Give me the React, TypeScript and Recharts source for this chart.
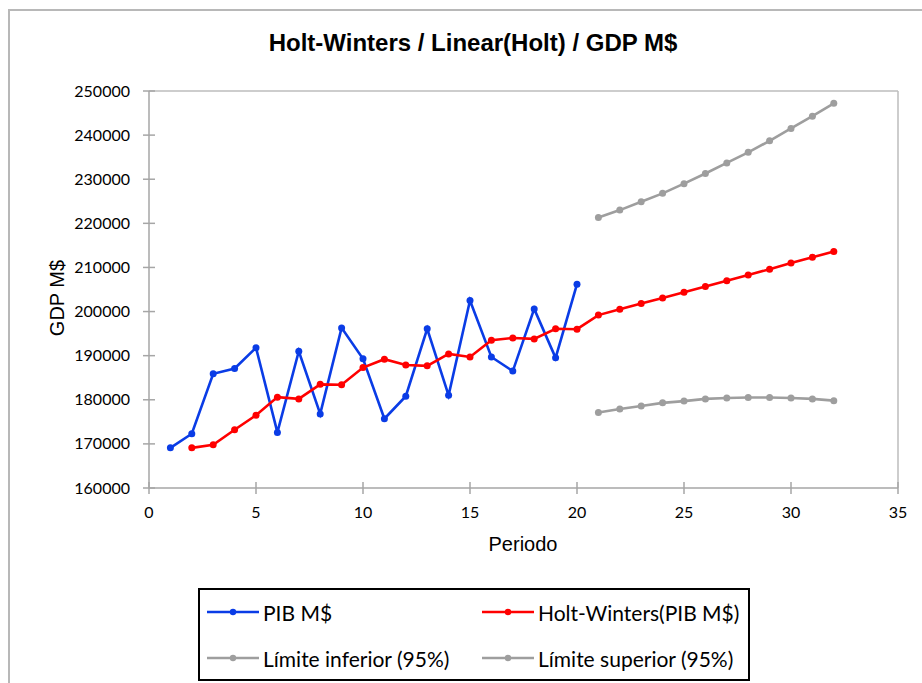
import React from 'react';
import { LineChart, Line, XAxis, YAxis, ReferenceLine } from 'recharts';

const pibPeriods = [1, 2, 3, 4, 5, 6, 7, 8, 9, 10, 11, 12, 13, 14, 15, 16, 17, 18, 19, 20];
const pib = [169100, 172300, 185900, 187100, 191800, 172600, 191000, 176800, 196300, 189300, 175700, 180800, 196100, 181000, 202500, 189700, 186500, 200600, 189500, 206200];

const holtPeriods = [2, 3, 4, 5, 6, 7, 8, 9, 10, 11, 12, 13, 14, 15, 16, 17, 18, 19, 20, 21, 22, 23, 24, 25, 26, 27, 28, 29, 30, 31, 32];
const holt = [169100, 169800, 173200, 176500, 180600, 180200, 183500, 183400, 187300, 189200, 187900, 187700, 190400, 189700, 193500, 194000, 193800, 196100, 196000, 199200, 200500, 201800, 203100, 204400, 205700, 207000, 208300, 209600, 211000, 212300, 213600];

const forecastPeriods = [21, 22, 23, 24, 25, 26, 27, 28, 29, 30, 31, 32];
const lower = [177100, 177900, 178600, 179300, 179700, 180200, 180400, 180500, 180500, 180400, 180200, 179800];
const upper = [221300, 223000, 224900, 226800, 229000, 231300, 233700, 236100, 238700, 241500, 244300, 247200];

const xTicks = [0, 5, 10, 15, 20, 25, 30, 35];
const yTicks = [160000, 170000, 180000, 190000, 200000, 210000, 220000, 230000, 240000, 250000];

const title = 'Holt-Winters / Linear(Holt) / GDP M$';
const xTitle = 'Periodo';
const yTitle = 'GDP M$';
const seriesNames = ['PIB M$', 'Holt-Winters(PIB M$)', 'Límite inferior (95%)', 'Límite superior (95%)'];
const seriesColors = ['#0a3ce6', '#ff0000', '#9e9e9e', '#9e9e9e'];

const allPeriods = Array.from(new Set([...pibPeriods, ...holtPeriods, ...forecastPeriods])).sort((a, b) => a - b);
const rows = allPeriods.map((p) => {
  const row: any = { x: p };
  const i1 = pibPeriods.indexOf(p);
  if (i1 >= 0) row.pib = pib[i1];
  const i2 = holtPeriods.indexOf(p);
  if (i2 >= 0) row.holt = holt[i2];
  const i3 = forecastPeriods.indexOf(p);
  if (i3 >= 0) {
    row.lower = lower[i3];
    row.upper = upper[i3];
  }
  return row;
});

const AXIS = '#a6a6a6';
const TICK_FONT = 'Lato, "Open Sans", sans-serif';

const YTick = (props: any) => {
  const { x, y, payload } = props;
  return (
    <g>
      <line x1={x - 6} x2={x + 6} y1={y} y2={y} stroke={AXIS} strokeWidth={1.5} />
      <text x={x - 19} y={y} dy={5.5} textAnchor="end" fontFamily={TICK_FONT} fontSize={16} fill="#000">
        {payload.value}
      </text>
    </g>
  );
};

const XTick = (props: any) => {
  const { x, y, payload } = props;
  return (
    <g>
      <line x1={x} x2={x} y1={y - 6} y2={y + 6} stroke={AXIS} strokeWidth={1.5} />
      <text x={x} y={y + 30} textAnchor="middle" fontFamily={TICK_FONT} fontSize={16} fill="#000">
        {payload.value}
      </text>
    </g>
  );
};

const LegendItem = ({ left, top, color, label }: { left: number; top: number; color: string; label: string }) => (
  <div style={{ position: 'absolute', left, top, height: 24, display: 'flex', alignItems: 'center' }}>
    <svg width={56} height={24} style={{ display: 'block' }}>
      <line x1={1} x2={53} y1={12} y2={12} stroke={color} strokeWidth={2.5} />
      <circle cx={27} cy={12} r={3.2} fill={color} />
    </svg>
    <span style={{ fontFamily: TICK_FONT, fontSize: 21, color: '#000', whiteSpace: 'nowrap', marginLeft: 1 }}>{label}</span>
  </div>
);

export default function App() {
  return (
    <div style={{ position: 'fixed', left: 0, top: 0, width: 922, height: 683, overflow: 'hidden', background: '#fff' }}>
      <div style={{ position: 'absolute', left: 8, top: 9, width: 1000, height: 1000, border: '2px solid #b8b8b8' }} />
      <div
        style={{
          position: 'absolute',
          left: 0,
          width: 946,
          top: 29,
          textAlign: 'center',
          fontFamily: '"Liberation Sans", Arial, sans-serif',
          fontWeight: 'bold',
          fontSize: 24,
          color: '#000',
        }}
      >
        {title}
      </div>
      <div style={{ position: 'absolute', left: 0, top: 0 }}>
        <LineChart width={922} height={683} data={rows} margin={{ top: 91, right: 24, left: 0, bottom: 135 }}>
          <XAxis
            dataKey="x"
            type="number"
            domain={[0, 35]}
            ticks={xTicks}
            interval={0}
            stroke={AXIS}
            strokeWidth={1.5}
            tickLine={false}
            tickSize={0}
            tickMargin={0}
            height={60}
            tick={<XTick />}
            allowDataOverflow
          />
          <YAxis
            type="number"
            domain={[160000, 250000]}
            ticks={yTicks}
            interval={0}
            stroke={AXIS}
            strokeWidth={1.5}
            tickLine={false}
            tickSize={0}
            tickMargin={0}
            width={149}
            tick={<YTick />}
            allowDataOverflow
          />
          <ReferenceLine y={250000} stroke="#bdbdbd" strokeWidth={1.5} />
          <ReferenceLine x={35} stroke="#bdbdbd" strokeWidth={1.5} />
          <Line dataKey="pib" stroke={seriesColors[0]} strokeWidth={2.6} dot={{ r: 3.5, fill: seriesColors[0], stroke: seriesColors[0], strokeWidth: 0 }} isAnimationActive={false} connectNulls={false} />
          <Line dataKey="holt" stroke={seriesColors[1]} strokeWidth={2.6} dot={{ r: 3.5, fill: seriesColors[1], stroke: seriesColors[1], strokeWidth: 0 }} isAnimationActive={false} connectNulls={false} />
          <Line dataKey="lower" stroke={seriesColors[2]} strokeWidth={2.6} dot={{ r: 3.5, fill: seriesColors[2], stroke: seriesColors[2], strokeWidth: 0 }} isAnimationActive={false} connectNulls={false} />
          <Line dataKey="upper" stroke={seriesColors[3]} strokeWidth={2.6} dot={{ r: 3.5, fill: seriesColors[3], stroke: seriesColors[3], strokeWidth: 0 }} isAnimationActive={false} connectNulls={false} />
        </LineChart>
      </div>
      <div
        style={{
          position: 'absolute',
          left: 523,
          top: 533,
          transform: 'translateX(-50%)',
          fontFamily: '"Liberation Sans", Arial, sans-serif',
          fontSize: 20,
          color: '#000',
          whiteSpace: 'nowrap',
        }}
      >
        {xTitle}
      </div>
      <div
        style={{
          position: 'absolute',
          left: 57,
          top: 298,
          transform: 'translate(-50%, -50%) rotate(-90deg)',
          fontFamily: '"Liberation Sans", Arial, sans-serif',
          fontSize: 20,
          color: '#000',
          whiteSpace: 'nowrap',
        }}
      >
        {yTitle}
      </div>
      <div style={{ position: 'absolute', left: 198, top: 588, width: 552, height: 93, border: '2px solid #000', boxSizing: 'border-box' }}>
        <LegendItem left={6} top={10} color={seriesColors[0]} label={seriesNames[0]} />
        <LegendItem left={281} top={10} color={seriesColors[1]} label={seriesNames[1]} />
        <LegendItem left={6} top={56} color={seriesColors[2]} label={seriesNames[2]} />
        <LegendItem left={281} top={56} color={seriesColors[3]} label={seriesNames[3]} />
      </div>
    </div>
  );
}
